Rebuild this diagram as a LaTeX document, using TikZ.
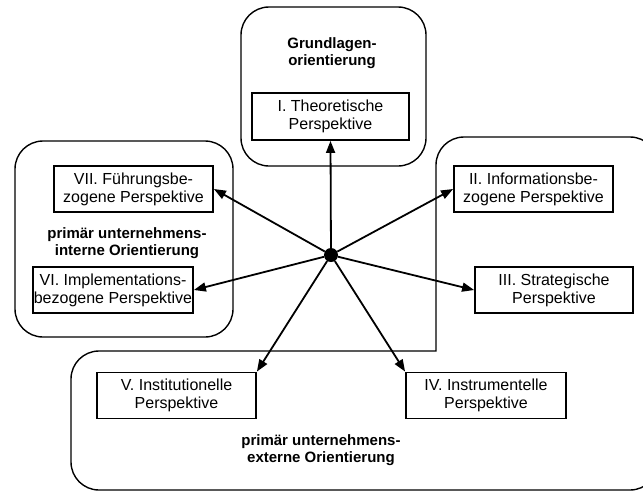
\documentclass[tikz,border=0pt]{standalone}
\usepackage{fontspec}
\setmainfont{Liberation Sans}
\usetikzlibrary{arrows.meta}

\tikzset{
  frame/.style={draw, line width=1.4pt, rounded corners=28pt},
  perspective/.style={draw, line width=1.8pt, fill=white, inner sep=0pt,
    align=center, font=\fontsize{16}{18}\selectfont},
  orient/.style={align=center, font=\bfseries\fontsize{15}{17.5}\selectfont},
  link/.style={line width=1.8pt, -{Triangle[length=12pt,width=9pt]}},
  hub/.style={circle, fill=black, inner sep=0pt, minimum size=14pt}
}

\begin{document}
\begin{tikzpicture}[x=1pt, y=-1pt]
\useasboundingbox (0,0) rectangle (643,491);
\clip (0,0) rectangle (643,491);

% orientation areas
\draw[frame] (241,7) rectangle (426,166);
\draw[frame] (15,141) rectangle (233,337);
\draw[frame, line cap=rect] (436,351) -- (436,137) -- (658,137) -- (658,490)
  -- (71,490) -- (71,351) -- (436,351);

% area labels
\node[orient] (grund) at (332,53) {Grundlagen-\\orientierung};
\node[orient] (intern) at (127,243) {primär unternehmens-\\interne Orientierung};
\node[orient] (extern) at (321,450) {primär unternehmens-\\externe Orientierung};

% perspectives
\node[perspective, minimum width=157pt, minimum height=47pt] (p1) at (330.5,116.5) {I. Theoretische\\Perspektive};
\node[perspective, minimum width=159pt, minimum height=46pt] (p2) at (533.5,189) {II. Informationsbe-\\zogene Perspektive};
\node[perspective, minimum width=158pt, minimum height=46pt] (p3) at (554,290) {III. Strategische\\Perspektive};
\node[perspective, minimum width=160pt, minimum height=46pt] (p4) at (486,395.5) {IV. Instrumentelle\\Perspektive};
\node[perspective, minimum width=159pt, minimum height=46pt] (p5) at (176.5,395.5) {V. Institutionelle\\Perspektive};
\node[perspective, minimum width=160pt, minimum height=46pt] (p6) at (113,290) {VI. Implementations-\\bezogene Perspektive};
\node[perspective, minimum width=159pt, minimum height=46pt] (p7) at (133.5,189) {VII. Führungsbe-\\zogene Perspektive};

% central hub and its arrows
\node[hub] (c) at (331,255) {};
\draw[link] (c) -- (p1.south);
\draw[link] (c) -- (p2.west);
\draw[link] (c) -- (p3.west);
\draw[link] (c) -- (p4.north west);
\draw[link] (c) -- (p5.north east);
\draw[link] (c) -- (p6.east);
\draw[link] (c) -- (p7.east);
\end{tikzpicture}
\end{document}
